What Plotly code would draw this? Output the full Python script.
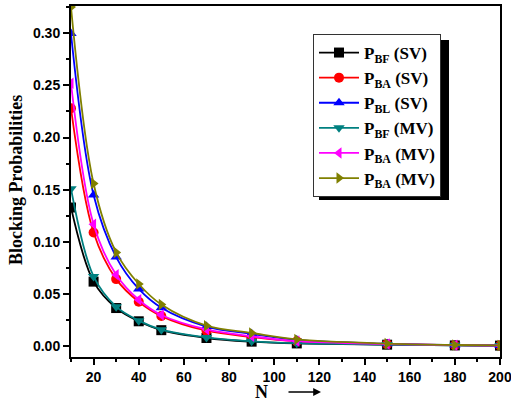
import plotly.graph_objects as go

N = [10, 20, 30, 40, 50, 70, 90, 110, 150, 180, 200]

pbf_sv = [0.133, 0.062, 0.0367, 0.024, 0.0155, 0.008, 0.0045, 0.0028, 0.0016, 0.0009, 0.0007]
pba_sv = [0.228, 0.109, 0.0644, 0.0427, 0.029, 0.015, 0.009, 0.0048, 0.0021, 0.0011, 0.0008]
pbl_sv = [0.2996, 0.145, 0.0855, 0.055, 0.037, 0.019, 0.012, 0.0062, 0.0025, 0.0012, 0.0009]
pbf_mv = [0.151, 0.067, 0.038, 0.0246, 0.016, 0.0085, 0.0048, 0.003, 0.0017, 0.001, 0.0008]
pba_mv = [0.252, 0.117, 0.0685, 0.0446, 0.030, 0.0162, 0.0096, 0.005, 0.0022, 0.0011, 0.0008]
pba2_mv = [0.325, 0.156, 0.090, 0.0597, 0.040, 0.0198, 0.0128, 0.0066, 0.0026, 0.0013, 0.0009]

series = [
    ("P<sub>BF</sub> (SV)", pbf_sv, "#000000", "square"),
    ("P<sub>BA</sub> (SV)", pba_sv, "#FF0000", "circle"),
    ("P<sub>BL</sub> (SV)", pbl_sv, "#0000FF", "triangle-up"),
    ("P<sub>BF</sub> (MV)", pbf_mv, "#008080", "triangle-down"),
    ("P<sub>BA</sub> (MV)", pba_mv, "#FF00FF", "triangle-left"),
    ("P<sub>BA</sub> (MV)", pba2_mv, "#808000", "triangle-right"),
]

fig = go.Figure()
for name, vals, color, sym in series:
    fig.add_trace(go.Scatter(
        x=N, y=vals, name="<b>" + name + "</b>", mode="lines+markers",
        line=dict(color=color, width=1.8, shape="spline", smoothing=1.0),
        marker=dict(color=color, symbol=sym, size=10),
    ))

tickfont = dict(family="Liberation Sans, Arial", size=14, color="black")

# plot area in pixels: x 71..500, y 6..357
PL, PR, PT, PB = 71, 500, 6, 357
def px(x):
    return (x - PL) / (PR - PL)
def py(y):
    return (PB - y) / (PB - PT)

LEG_L, LEG_T = 313, 34
LEG_W, LEG_H = 130, 160
SH = 6

fig.update_layout(
    width=511, height=406,
    margin=dict(l=PL, r=511 - PR, t=PT, b=406 - PB),
    paper_bgcolor="white", plot_bgcolor="white",
    showlegend=True,
    legend=dict(
        x=px(LEG_L), y=py(LEG_T), xanchor="left", yanchor="top",
        bgcolor="white", bordercolor="#333333", borderwidth=1,
        font=dict(family="Liberation Serif, Times New Roman", size=17, color="black"),
        tracegroupgap=0, itemwidth=40,
    ),
    xaxis=dict(
        range=[10, 200], tickmode="array", automargin=False,
        tickvals=[20, 40, 60, 80, 100, 120, 140, 160, 180, 200],
        ticktext=["<b>%d</b>" % v for v in [20, 40, 60, 80, 100, 120, 140, 160, 180, 200]],
        ticks="outside", ticklen=6, tickwidth=1.5, tickcolor="black",
        ticklabeloverflow="allow",
        minor=dict(tickvals=[10, 30, 50, 70, 90, 110, 130, 150, 170, 190], ticks="outside", ticklen=3, tickwidth=1.5, tickcolor="black"),
        showline=True, linecolor="black", linewidth=2, mirror=True,
        showgrid=False, zeroline=False, tickfont=tickfont,
    ),
    yaxis=dict(
        range=[-0.0102, 0.326], tickmode="array", automargin=False,
        tickvals=[0, 0.05, 0.10, 0.15, 0.20, 0.25, 0.30],
        ticktext=["<b>%.2f</b>" % v for v in [0, 0.05, 0.10, 0.15, 0.20, 0.25, 0.30]],
        ticks="outside", ticklen=6, tickwidth=1.5, tickcolor="black",
        ticklabeloverflow="allow",
        minor=dict(tickvals=[0.025, 0.075, 0.125, 0.175, 0.225, 0.275, 0.325], ticks="outside", ticklen=3, tickwidth=1.5, tickcolor="black"),
        showline=True, linecolor="black", linewidth=2, mirror=True,
        showgrid=False, zeroline=False, tickfont=tickfont,
    ),
    shapes=[dict(type="rect", xref="paper", yref="paper",
                 x0=px(LEG_L + SH), x1=px(LEG_L + LEG_W + SH),
                 y0=py(LEG_T + LEG_H + SH), y1=py(LEG_T + SH),
                 fillcolor="black", line=dict(width=0), layer="above")],
    annotations=[
        dict(text="<b>Blocking Probabilities</b>", x=px(16), y=py(180), xref="paper", yref="paper",
             showarrow=False, textangle=-90, xanchor="center", yanchor="middle",
             font=dict(family="Liberation Serif, Times New Roman", size=18, color="black")),
        dict(text="<b>N</b>", x=px(261), y=py(392), xref="paper", yref="paper",
             showarrow=False, xanchor="center", yanchor="middle",
             font=dict(family="Liberation Serif, Times New Roman", size=18, color="black")),
        dict(text="", x=px(321), y=py(392), xref="paper", yref="paper",
             showarrow=True, ax=-34, ay=0, arrowhead=2, arrowsize=1.2, arrowwidth=1.3,
             arrowcolor="black"),
    ],
)

fig.write_html("out.html", config={"displayModeBar": False},
               post_script="document.body.style.margin='0';document.body.style.padding='0';")
